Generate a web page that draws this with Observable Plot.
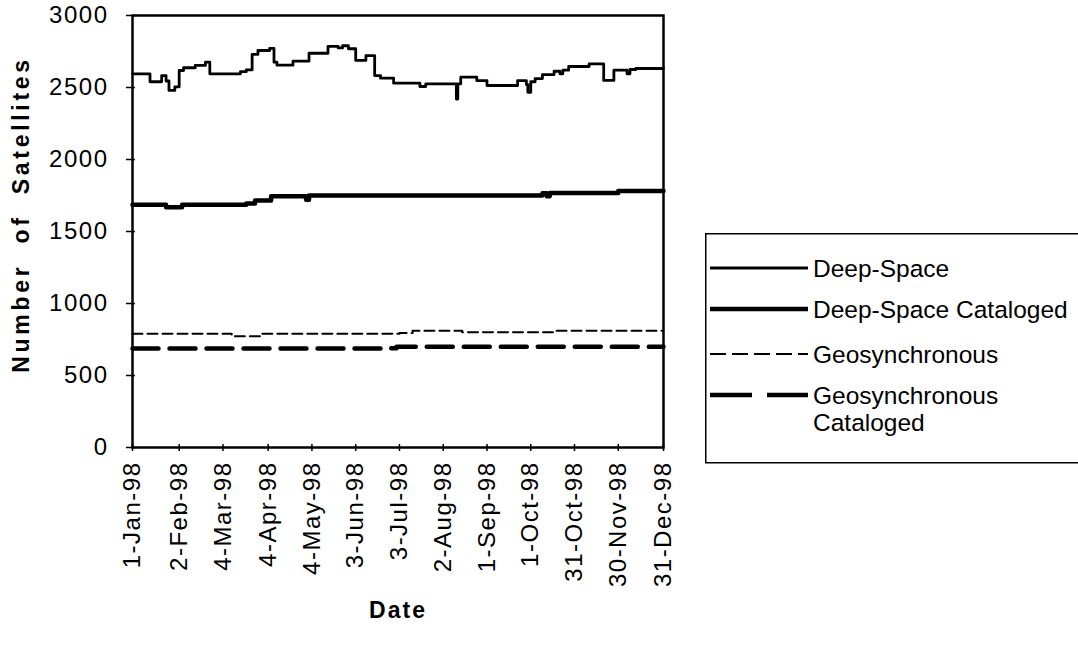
<!DOCTYPE html>
<html><head><meta charset="utf-8">
<script src="https://cdn.jsdelivr.net/npm/d3@7"></script>
<script src="https://cdn.jsdelivr.net/npm/@observablehq/plot@0.6"></script>
<style>
body{margin:0;background:#fff;font-family:"Liberation Sans",Arial,sans-serif;}
#wrap{position:relative;width:1078px;height:648px;overflow:hidden;background:#fff;}
#chart{position:absolute;left:0;top:0;}
#legend{position:absolute;left:705px;top:233px;}
#chart svg{font-family:"Liberation Sans",Arial,sans-serif;}
#chart g[aria-label="x-axis tick label"] text, #chart g[aria-label="y-axis tick label"] text{letter-spacing:1.5px;}
</style></head><body><div id="wrap"><div id="chart"></div><div id="legend"></div></div>
<script>
// ---- data ----
const deepDates = ["1998-01-01","1998-01-13","1998-01-21","1998-01-24","1998-01-26","1998-01-30","1998-02-02","1998-02-05","1998-02-13","1998-02-20","1998-02-23","1998-03-16","1998-03-20","1998-03-24","1998-03-28","1998-04-05","1998-04-08","1998-04-10","1998-04-21","1998-05-02","1998-05-15","1998-05-22","1998-05-25","1998-05-29","1998-06-03","1998-06-10","1998-06-16","1998-06-20","1998-06-29","1998-07-17","1998-07-21","1998-08-11","1998-08-12","1998-08-14","1998-08-25","1998-09-01","1998-09-22","1998-09-28","1998-09-29","1998-10-01","1998-10-04","1998-10-09","1998-10-17","1998-10-21","1998-10-23","1998-10-27","1998-11-10","1998-11-20","1998-11-27","1998-12-06","1998-12-08","1998-12-12","1998-12-31"];
const deepValues = [2595,2540,2583,2545,2480,2505,2618,2637,2653,2676,2595,2610,2622,2730,2757,2772,2676,2655,2683,2738,2785,2775,2790,2769,2688,2722,2583,2565,2530,2507,2525,2420,2525,2572,2548,2514,2548,2520,2467,2540,2562,2590,2613,2595,2620,2646,2664,2549,2620,2595,2625,2632,2632];

const deepCatDates = ["1998-01-01","1998-01-24","1998-02-04","1998-03-20","1998-03-26","1998-04-06","1998-04-30","1998-05-02","1998-10-09","1998-10-12","1998-10-14","1998-11-30","1998-12-31"];
const deepCatValues = [1685,1668,1685,1695,1715,1745,1720,1750,1765,1745,1768,1782,1782];

const geoDates = ["1998-01-01","1998-03-10","1998-03-30","1998-07-03","1998-07-12","1998-08-15","1998-10-18","1998-12-31"];
const geoValues = [790,772,790,795,810,800,810,810];

const geoCatDates = ["1998-01-01","1998-06-22","1998-07-01","1998-12-31"];
const geoCatValues = [688,690,700,700];

const yTicks = [0,500,1000,1500,2000,2500,3000];
const xTickDates = ["1998-01-01","1998-02-02","1998-03-04","1998-04-04","1998-05-04","1998-06-03","1998-07-03","1998-08-02","1998-09-01","1998-10-01","1998-10-31","1998-11-30","1998-12-31"];
const xTickLabels = ["1-Jan-98","2-Feb-98","4-Mar-98","4-Apr-98","4-May-98","3-Jun-98","3-Jul-98","2-Aug-98","1-Sep-98","1-Oct-98","31-Oct-98","30-Nov-98","31-Dec-98"];

const seriesNames = ["Deep-Space","Deep-Space Cataloged","Geosynchronous","Geosynchronous Cataloged"];

// ---- build ----
const parse = s => new Date(s + "T00:00:00Z");
const toRows = (dates, values) => dates.map((d, i) => ({date: parse(d), value: values[i]}));
const deep = toRows(deepDates, deepValues);
const deepCat = toRows(deepCatDates, deepCatValues);
const geo = toRows(geoDates, geoValues);
const geoCat = toRows(geoCatDates, geoCatValues);
const tickDates = xTickDates.map(parse);
const labelByTime = new Map(tickDates.map((d, i) => [+d, xTickLabels[i]]));

const styles = [
  {strokeWidth: 2.8, dash: null, legendDash: null},
  {strokeWidth: 4.5, dash: null, legendDash: null},
  {strokeWidth: 2, dash: "10,5", legendDash: "16,6"},
  {strokeWidth: 4.5, dash: "26,11", legendDash: "42,15"}
];

const chart = Plot.plot({
  width: 700,
  height: 648,
  marginLeft: 132,
  marginRight: 37,
  marginTop: 15,
  marginBottom: 201,
  style: {fontSize: "24px", fontFamily: "Liberation Sans, Arial, sans-serif", color: "#000", background: "#fff"},
  x: {type: "utc", domain: [parse("1998-01-01"), parse("1998-12-31")]},
  y: {domain: [0, 3000]},
  marks: [
    Plot.axisY(yTicks, {tickSize: 9, dx: 3, tickPadding: 18, strokeWidth: 1.5, tickFormat: d => String(d), label: null}),
    Plot.axisX(tickDates, {tickSize: 7, dy: -3, tickRotate: -90, tickPadding: 10, strokeWidth: 1.5, tickFormat: d => labelByTime.get(+d), label: null}),
    Plot.frame({stroke: "#000", strokeWidth: 2.5}),
    Plot.line(geoCat, {x: "date", y: "value", curve: "step-after", stroke: "#000", strokeWidth: styles[3].strokeWidth, strokeDasharray: styles[3].dash}),
    Plot.line(geo, {x: "date", y: "value", curve: "step-after", stroke: "#000", strokeWidth: styles[2].strokeWidth, strokeDasharray: styles[2].dash}),
    Plot.line(deepCat, {x: "date", y: "value", curve: "step-after", stroke: "#000", strokeWidth: styles[1].strokeWidth}),
    Plot.line(deep, {x: "date", y: "value", curve: "step-after", stroke: "#000", strokeWidth: styles[0].strokeWidth}),
    Plot.text(["Number  of  Satellites"], {text: d => d, frameAnchor: "left", textAnchor: "middle", dx: -111, dy: -17, rotate: -90, fontWeight: "bold", fontSize: 23}),
    Plot.text(["Date"], {text: d => d, frameAnchor: "bottom", dx: 0, dy: 170, fontWeight: "bold", fontSize: 23})
  ]
});
document.getElementById("chart").appendChild(chart);
d3.select(chart).selectAll("text").filter(function(){return this.textContent.startsWith("Number");})
  .style("letter-spacing", "3.7px").style("white-space", "pre");
d3.select(chart).selectAll("text").filter(function(){return this.textContent === "Date";})
  .style("letter-spacing", "2px");

// ---- legend ----
const lg = d3.select("#legend").append("svg").attr("width", 380).attr("height", 232)
  .style("font-family", "Liberation Sans, Arial, sans-serif").style("font-size", "24.5px");
lg.append("rect").attr("x", 0.75).attr("y", 0.75).attr("width", 400).attr("height", 229).attr("fill", "#fff").attr("stroke", "#000").attr("stroke-width", 1.5);
const rowY = [35, 76, 121, 162];
seriesNames.forEach((name, i) => {
  lg.append("line").attr("x1", 5).attr("x2", 103).attr("y1", rowY[i]).attr("y2", rowY[i])
    .attr("stroke", "#000").attr("stroke-width", styles[i].strokeWidth)
    .attr("stroke-dasharray", styles[i].legendDash);
  const t = lg.append("text").attr("x", 108).attr("y", rowY[i]).attr("dy", "0.35em");
  if (name === "Geosynchronous Cataloged") {
    t.append("tspan").attr("x", 108).text("Geosynchronous");
    t.append("tspan").attr("x", 108).attr("dy", "1.1em").text("Cataloged");
  } else t.text(name);
});
</script></body></html>
